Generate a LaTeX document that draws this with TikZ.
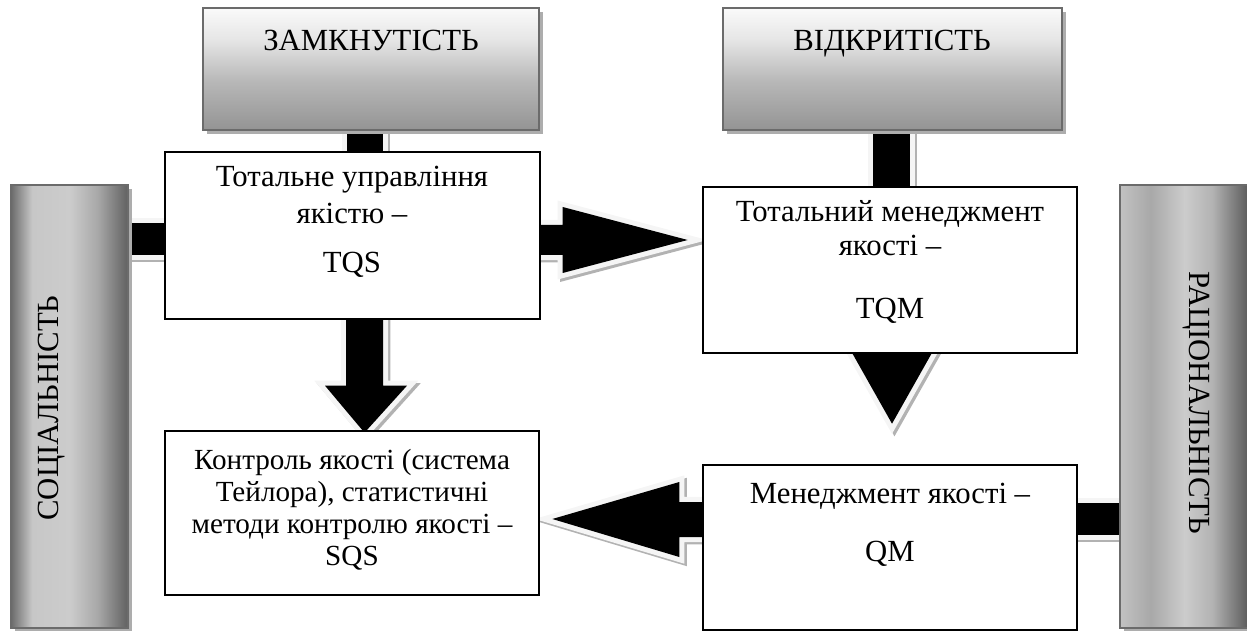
\documentclass[tikz,border=0pt]{standalone}
\usepackage{fontspec}
\setmainfont{Liberation Serif}
\usetikzlibrary{backgrounds,shadows}

\pgfdeclareverticalshading{capshade}{100bp}{color(0bp)=(black!42); color(25bp)=(black!42); color(45bp)=(black!28); color(62bp)=(black!10); color(75bp)=(black!2); color(100bp)=(black!2)}
\pgfdeclarehorizontalshading{leftshade}{100bp}{color(0bp)=(black!58); color(25bp)=(black!58); color(34bp)=(black!22); color(50bp)=(black!20); color(62bp)=(black!34); color(75bp)=(black!62); color(100bp)=(black!62)}
\pgfdeclarehorizontalshading{rightshade}{100bp}{color(0bp)=(black!24); color(25bp)=(black!24); color(36bp)=(black!34); color(48bp)=(black!20); color(58bp)=(black!30); color(70bp)=(black!62); color(100bp)=(black!62)}

\begin{document}
\begin{tikzpicture}[x=0.02cm,y=-0.02cm,
    graybox/.style={draw=black!58,line width=1.1pt,inner sep=0pt,
        drop shadow={shadow xshift=2.2pt,shadow yshift=-2.2pt,fill=black!32,opacity=1}},
    whitebox/.style={draw=black,fill=white,line width=0.8pt,inner sep=0pt},
    lbl/.style={font=\fontsize{17.5}{19}\selectfont,align=center,inner sep=0pt},
    blockarrow/.style={fill=black,line join=miter,
        preaction={fill=black!30,draw=black!30,line width=5.7pt,
            transform canvas={xshift=1.4pt,yshift=-1.4pt}},
        preaction={fill=black!4,draw=black!4,line width=5.7pt}}]

    \useasboundingbox (0,0) rectangle (1247,631);

    % grey frames
    \node[graybox,shading=capshade,minimum width=6.72cm,minimum height=2.44cm] (closed) at (371,69) {};
    \node[graybox,shading=capshade,minimum width=6.78cm,minimum height=2.44cm] (open) at (892.5,69) {};
    \node[graybox,shading=leftshade,minimum width=2.34cm,minimum height=8.86cm] (social) at (69.5,406.5) {};
    \node[graybox,shading=rightshade,minimum width=2.8cm,minimum height=8.86cm] (rational) at (1190,406.5) {};

    \node[lbl,text depth=0pt] (closedtxt) at (371,40) {ЗАМКНУТІСТЬ};
    \node[lbl,text depth=0pt] (opentxt) at (892,40) {ВІДКРИТІСТЬ};
    \node[lbl,rotate=90] (socialtxt) at (52,408) {СОЦІАЛЬНІСТЬ};
    \node[lbl,rotate=-90,text depth=0pt] (rationaltxt) at (1200,403) {РАЦІОНАЛЬНІСТЬ};

    % white boxes
    \node[whitebox,minimum width=7.5cm,minimum height=3.34cm] (tqs) at (352.5,235.5) {};
    \node[whitebox,minimum width=7.48cm,minimum height=3.32cm] (tqm) at (890,270) {};
    \node[whitebox,minimum width=7.48cm,minimum height=3.28cm] (sqs) at (352,513) {};
    \node[whitebox,minimum width=7.48cm,minimum height=3.3cm] (qm) at (890,547.5) {};

    \node[lbl,font=\fontsize{17.5}{21}\selectfont] (tqstxt) at (352,222) {Тотальне управління\\якістю –\\[7pt]TQS};
    \node[lbl] (tqmtxt) at (890,262) {Тотальний менеджмент\\якості –\\[17pt]TQM};
    \node[lbl,font=\fontsize{16.6}{18.2}\selectfont] (sqstxt) at (352,510) {Контроль якості (система\\Тейлора), статистичні\\методи контролю якості –\\SQS};
    \node[lbl] (qmtxt) at (890,525) {Менеджмент якості –\\[14pt]QM};

    % block arrows behind the boxes
    \begin{pgfonlayer}{background}
    \fill[blockarrow,shift={(closed.south)}] (-24,-5) rectangle (12,25);
    \fill[blockarrow,shift={(open.south)}] (-19.5,-5) rectangle (17.5,60);
    \fill[blockarrow,shift={(tqs.west)}] (-42,-12.5) rectangle (5,19.5);
    \fill[blockarrow,shift={(qm.east)}] (-5,-44.5) rectangle (48,-12.5);
    \fill[blockarrow,shift={(tqs.east)}] (-10,-10.5) -- (22,-10.5) -- (22,-28.5) -- (147,4.5)
        -- (22,37.5) -- (22,19.5) -- (-10,19.5) -- cycle;
    \fill[blockarrow,shift={(tqs.south)}] (-6.5,-10) -- (30.5,-10) -- (30.5,66) -- (54.5,66)
        -- (12,113) -- (-27.5,66) -- (-6.5,66) -- cycle;
    \fill[blockarrow,shift={(tqm.south)}] (-17,-20) -- (20,-20) -- (20,-8) -- (46,-8)
        -- (2,70) -- (-42,-8) -- (-17,-8) -- cycle;
    \fill[blockarrow,shift={(qm.west)}] (7,-45.5) -- (-23,-45.5) -- (-23,-65.5) -- (-150,-28.5)
        -- (-23,9.5) -- (-23,-10.5) -- (7,-10.5) -- cycle;
    \end{pgfonlayer}
\end{tikzpicture}
\end{document}
